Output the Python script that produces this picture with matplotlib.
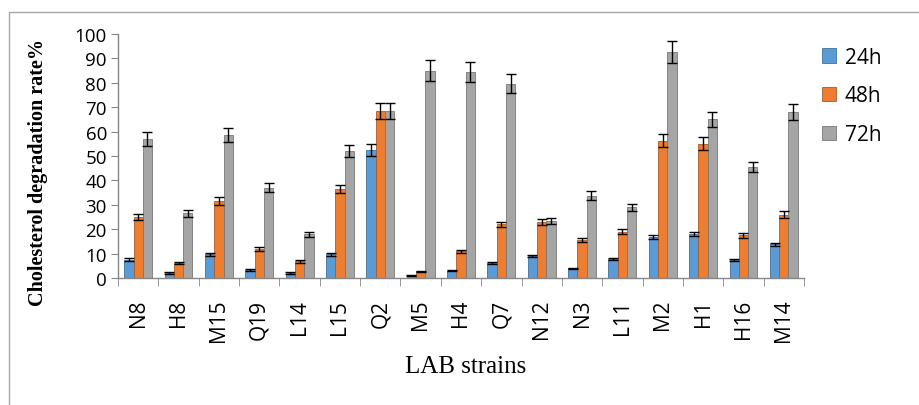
import numpy as np
import matplotlib.pyplot as plt
from matplotlib.patches import Rectangle

strains = ["N8", "H8", "M15", "Q19", "L14", "L15", "Q2", "M5", "H4", "Q7",
           "N12", "N3", "L11", "M2", "H1", "H16", "M14"]
h24 = [7.5, 2.0, 9.8, 3.2, 2.0, 9.8, 52.5, 1.2, 3.0, 6.2, 9.0, 4.0, 7.8, 16.8, 18.0, 7.5, 13.8]
h48 = [25.0, 6.0, 31.5, 12.0, 6.8, 36.5, 68.5, 2.7, 11.0, 22.0, 22.8, 15.7, 19.0, 56.3, 55.0, 17.5, 26.0]
h72 = [57.0, 26.5, 58.5, 37.0, 18.0, 52.0, 68.5, 85.0, 84.5, 79.7, 23.2, 33.8, 29.0, 92.5, 65.0, 45.5, 68.0]
e24 = [0.5, 0.3, 0.6, 0.3, 0.3, 0.6, 2.4, 0.2, 0.3, 0.3, 0.5, 0.3, 0.4, 0.8, 0.8, 0.4, 0.7]
e48 = [1.2, 0.4, 1.5, 0.8, 0.5, 1.8, 3.3, 0.3, 0.6, 1.0, 1.2, 0.8, 1.0, 2.8, 2.7, 1.0, 1.3]
e72 = [2.8, 1.3, 2.8, 1.8, 1.0, 2.6, 3.3, 4.2, 4.1, 4.0, 1.2, 1.7, 1.4, 4.5, 3.2, 2.2, 3.3]

series = [("24h", h24, e24, "#5B9BD5", "#41719C"),
          ("48h", h48, e48, "#ED7D31", "#AE5A21"),
          ("72h", h72, e72, "#A5A5A5", "#787878")]

fig = plt.figure(figsize=(9.19, 4.06), dpi=100)
ax = fig.add_axes([118 / 919, 1 - 279 / 406, (804 - 118) / 919, (279 - 35) / 406])

# thin frame around the chart (only top and left visible)
fig.patches.append(Rectangle((9 / 919, -0.1), 1.2, (406 - 13) / 406 + 0.1, transform=fig.transFigure,
                             fill=False, edgecolor="#A6A6A6", linewidth=1.0))

x = np.arange(len(strains))
w = 0.23
for i, (name, vals, errs, col, edge) in enumerate(series):
    ax.bar(x + (i - 1) * w, vals, w, color=col, edgecolor=edge, linewidth=0.6, label=name,
           yerr=errs, capsize=3.5, error_kw=dict(ecolor="black", elinewidth=1.0, capthick=1.0))

ax.set_xlim(-0.5, len(strains) - 0.5)
ax.set_ylim(0, 100)
ax.set_yticks(range(0, 101, 10))
ax.set_xticks(x)
ax.set_xticklabels(strains, rotation=90, fontsize=15, family="Open Sans")
ax.set_xticks(np.arange(-0.5, len(strains), 1), minor=True)
ax.tick_params(axis="x", which="major", length=0, pad=15)
ax.tick_params(axis="x", which="minor", length=6, color="#868686", direction="out")
ax.tick_params(axis="y", length=5, color="#868686", direction="out", labelsize=13.5, pad=3)
for lab in ax.get_yticklabels():
    lab.set_family("Open Sans")

for s in ["top", "right"]:
    ax.spines[s].set_visible(False)
for s in ["left", "bottom"]:
    ax.spines[s].set_color("#868686")
    ax.spines[s].set_linewidth(1.0)

ax.set_ylabel("Cholesterol degradation rate%", family="Liberation Serif", fontweight="bold",
              fontsize=14.5)
ax.yaxis.set_label_coords((48 - 118) / 686, (279 - 172) / 244)
fig.text(466 / 919, 1 - 367 / 406, "LAB strains", family="Liberation Serif", fontsize=18,
         ha="center", va="center")

leg = fig.legend(loc="upper left", bbox_to_anchor=(803 / 919, 1 - 29 / 406), frameon=False,
                 prop={"family": "Open Sans", "size": 15}, handlelength=0.7, handleheight=0.7,
                 handletextpad=0.4, labelspacing=0.85)

fig.savefig("out.png", dpi=100)
